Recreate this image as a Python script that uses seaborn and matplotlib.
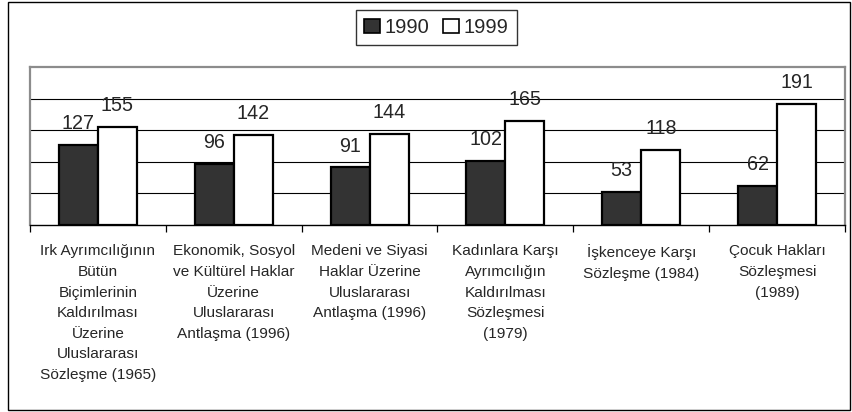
import matplotlib
matplotlib.use("Agg")
import matplotlib.pyplot as plt
import seaborn as sns
import pandas as pd
from matplotlib.patches import Patch, Rectangle
from matplotlib.ticker import FixedLocator, NullFormatter

categories = [
    "Irk Ayrımcılığının\nBütün\nBiçimlerinin\nKaldırılması\nÜzerine\nUluslararası\nSözleşme (1965)",
    "Ekonomik, Sosyol\nve Kültürel Haklar\nÜzerine\nUluslararası\nAntlaşma (1996)",
    "Medeni ve Siyasi\nHaklar Üzerine\nUluslararası\nAntlaşma (1996)",
    "Kadınlara Karşı\nAyrımcılığın\nKaldırılması\nSözleşmesi\n(1979)",
    "İşkenceye Karşı\nSözleşme (1984)",
    "Çocuk Hakları\nSözleşmesi\n(1989)",
]
years = ["1990", "1999"]
values_1990 = [127, 96, 91, 102, 53, 62]
values_1999 = [155, 142, 144, 165, 118, 191]

colors = {"1990": "#333333", "1999": "#ffffff"}

df = pd.DataFrame({
    "Sözleşme": categories * 2,
    "Yıl": [years[0]] * len(categories) + [years[1]] * len(categories),
    "Sayı": values_1990 + values_1999,
})

sns.set_style("white")
plt.rcParams["font.family"] = ["Liberation Sans", "DejaVu Sans"]

fig = plt.figure(figsize=(8.53, 4.12), dpi=100)
ax = fig.add_axes([30 / 853, 1 - 225 / 412, 815 / 853, 158 / 412])

sns.barplot(data=df, x="Sözleşme", y="Sayı", hue="Yıl", palette=colors,
            width=0.575, edgecolor="black", linewidth=1.6, saturation=1,
            ax=ax, legend=False)

ax.set_ylim(0, 250)
ax.set_xlim(-0.5, len(categories) - 0.5)
ax.set_xlabel("")
ax.set_ylabel("")
ax.set_yticks([50, 100, 150, 200])
ax.yaxis.set_major_formatter(NullFormatter())
ax.tick_params(axis="y", length=0)
ax.grid(axis="y", color="black", linewidth=0.8)
ax.set_axisbelow(True)

for side in ("top", "left", "right"):
    ax.spines[side].set_color("#8c8c8c")
    ax.spines[side].set_linewidth(1.6)
ax.spines["bottom"].set_color("black")
ax.spines["bottom"].set_linewidth(1.0)

# category labels centred, separator ticks between categories
ax.tick_params(axis="x", which="major", length=0, pad=14, labelsize=11.1)
for lbl in ax.get_xticklabels():
    lbl.set_multialignment("center")
    lbl.set_linespacing(1.6)
ax.xaxis.set_minor_locator(FixedLocator([i - 0.5 for i in range(len(categories) + 1)]))
ax.tick_params(axis="x", which="minor", length=5, width=0.9, color="black",
               direction="out", bottom=True)

# value labels above each bar
for container in ax.containers:
    for bar in container:
        h = bar.get_height()
        ax.annotate(f"{h:.0f}", (bar.get_x() + bar.get_width() / 2, h),
                    xytext=(0, 11.5), textcoords="offset points",
                    ha="center", va="baseline", fontsize=14.2)

handles = [Patch(facecolor=colors[y], edgecolor="black", linewidth=1.2, label=y)
           for y in years]
leg = fig.legend(handles=handles, loc="center", bbox_to_anchor=(436.5 / 853, 1 - 27.5 / 412),
                 ncol=2, fontsize=14.5, frameon=True, fancybox=False,
                 handlelength=0.75, handleheight=0.75, handletextpad=0.25,
                 columnspacing=0.7, borderpad=0.4, borderaxespad=0)
leg.get_frame().set_edgecolor("black")
leg.get_frame().set_linewidth(1.0)

# outer chart border
fig.patches.append(Rectangle((8 / 853, 2 / 412), 842 / 853, 408 / 412,
                             transform=fig.transFigure, fill=False,
                             edgecolor="black", linewidth=1.0))

fig.savefig("out.png", dpi=100)
